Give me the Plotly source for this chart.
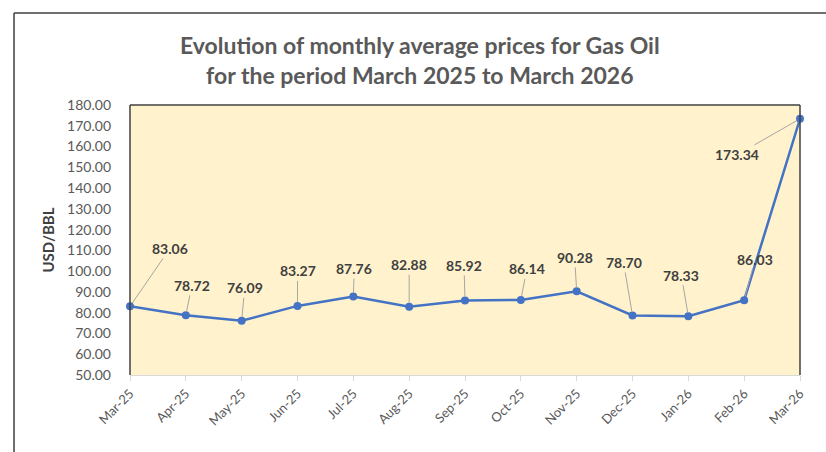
import plotly.graph_objects as go

months = ["Mar-25", "Apr-25", "May-25", "Jun-25", "Jul-25", "Aug-25", "Sep-25",
          "Oct-25", "Nov-25", "Dec-25", "Jan-26", "Feb-26", "Mar-26"]
prices = [83.06, 78.72, 76.09, 83.27, 87.76, 82.88, 85.92, 86.14, 90.28, 78.70, 78.33, 86.03, 173.34]
# label offsets in pixels (dx, dy) from each point
label_dx = [40, 6, 3, 0, 1, 0, -1, 6, -2, -9, -7, 11, -63]
label_dy = [-58, -30, -33, -35, -28, -42, -35, -31, -34, -53, -41, -41, 36]

tickvals_y = [50 + 10 * i for i in range(14)]
ticktext_y = [f"{v:.2f}" for v in tickvals_y]

fig = go.Figure()
fig.add_trace(go.Scatter(
    x=months, y=prices, mode="lines+markers",
    line=dict(color="#4472C4", width=2.5),
    marker=dict(color="#4472C4", size=8),
    cliponaxis=False, hoverinfo="x+y", showlegend=False,
))

for m, p, dx, dy in zip(months, prices, label_dx, label_dy):
    fig.add_annotation(
        x=m, y=p, text=f"<b>{p:.2f}</b>", showarrow=True, arrowhead=0,
        arrowcolor="#A6A6A6", arrowwidth=1, ax=dx, ay=dy, standoff=4,
        font=dict(family="Lato", size=14, color="#404040"),
    )

fig.add_annotation(
    x=0.433, y=1.1667, xref="paper", yref="paper", showarrow=False,
    text="<b>Evolution of monthly average prices for Gas Oil</b><br><b>for the period March 2025 to March 2026</b>",
    font=dict(family="Lato", size=23, color="#595959"), align="center",
    xanchor="center", yanchor="middle",
)

frame = "#404040"
shapes = [
    dict(type="line", xref="paper", yref="paper", x0=0, x1=0, y0=0, y1=1, line=dict(color=frame, width=1.5)),
    dict(type="line", xref="paper", yref="paper", x0=0, x1=1, y0=1, y1=1, line=dict(color=frame, width=1.5)),
    dict(type="line", xref="paper", yref="paper", x0=1, x1=1, y0=0, y1=1, line=dict(color=frame, width=1.5)),
    dict(type="line", xref="paper", yref="paper", x0=-0.1731, x1=1.05, y0=1.3407, y1=1.3407, line=dict(color=frame, width=1.5)),
    dict(type="line", xref="paper", yref="paper", x0=-0.1731, x1=-0.1731, y0=-0.3, y1=1.3407, line=dict(color=frame, width=1.5)),
]

fig.update_layout(
    width=826, height=452,
    margin=dict(l=130, r=26, t=105, b=77),
    paper_bgcolor="white", plot_bgcolor="#FFF2CC",
    shapes=shapes,
    xaxis=dict(type="category", range=[0, 12], showgrid=False, showline=True,
               linecolor="#D9D9D9", linewidth=1, ticks="outside", ticklen=5,
               tickcolor="#D9D9D9", tickangle=-45,
               tickfont=dict(family="Lato", size=13, color="#595959"), zeroline=False),
    yaxis=dict(range=[50, 180], tickvals=tickvals_y, ticktext=ticktext_y, showgrid=False,
               showline=False, ticks="", zeroline=False, ticklabelstandoff=18,
               tickfont=dict(family="Lato", size=14, color="#595959"),
               title=dict(text="<b>USD/BBL</b>", font=dict(family="Lato", size=15, color="#404040"), standoff=8)),
)

fig.write_html("out.html", post_script="document.body.style.margin='0';",
               config={"displayModeBar": False})
